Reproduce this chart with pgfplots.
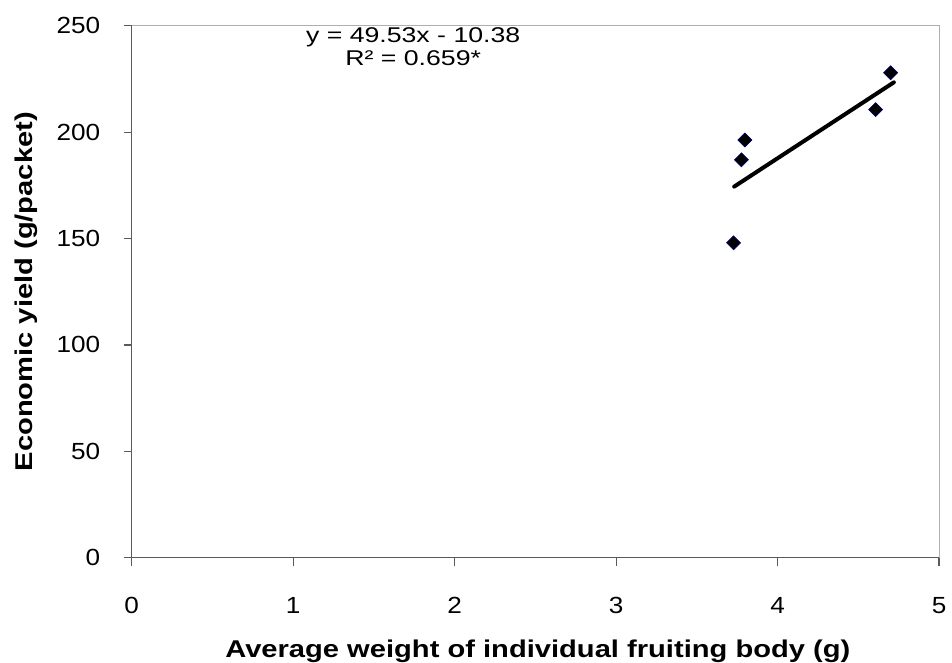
\documentclass[border=0pt]{standalone}
\usepackage{pgfplots}
\pgfplotsset{compat=1.18}
\usepackage{fontspec}
\setmainfont[FakeStretch=1.2]{Liberation Sans}
\newfontfamily\tickfont[FakeStretch=1.12]{Liberation Sans}
\newfontfamily\eqfont[FakeStretch=1.25]{Liberation Sans}
\definecolor{axgray}{RGB}{90,90,90}
\definecolor{bordgray}{RGB}{175,175,175}
\definecolor{mkedge}{RGB}{0,0,110}
\begin{document}
\begin{tikzpicture}
\path[use as bounding box] (-98.8pt,-78.2pt) rectangle (615.2pt,418.3pt);
\begin{axis}[
  at={(0,0)}, anchor=south west,
  scale only axis,
  width=605.5pt, height=399pt,
  xmin=0, xmax=5, ymin=0, ymax=250,
  xtick={0,1,2,3,4,5}, ytick={0,50,100,150,200,250},
  axis line style={draw=none},
  tick style={axgray, line width=0.9pt},
  major tick length=6pt,
  tick align=outside,
  xtick pos=bottom, ytick pos=left,
  /pgf/number format/assume math mode=true,
  ticklabel style={font=\tickfont\fontsize{17.5}{20}\selectfont, inner sep=0pt},
  xticklabel style={anchor=north, yshift=-23.7pt},
  yticklabel style={anchor=east, xshift=-17.5pt},
  xlabel={\textbf{Average weight of individual fruiting body (g)}},
  ylabel={\textbf{Economic yield (g/packet)}},
  label style={font=\fontsize{18.2}{20}\selectfont},
  xlabel style={at={(axis description cs:0.503,0)}, anchor=base, yshift=-74.7pt},
  ylabel style={at={(axis description cs:0,0.5)}, anchor=base, yshift=74.5pt},
  clip=false,
]
\draw[bordgray, line width=0.8pt] (axis cs:0,250) -- (axis cs:5,250) -- (axis cs:5,0);
\draw[axgray, line width=0.9pt] (axis cs:0,250) -- (axis cs:0,0) -- (axis cs:5,0);
\addplot[only marks, mark=square*, mark size=3.7pt, mark options={rotate=45, fill=black, draw=mkedge, line width=0.5pt}]
  coordinates {(3.727,148.0) (3.776,187.0) (3.797,196.3) (4.607,210.6) (4.70,227.9)};
\addplot[black, line width=3pt, line cap=round] coordinates {(3.731,174.4) (4.72,223.4)};
\node[anchor=base, font=\eqfont\fontsize{16}{19}\selectfont] at (axis cs:1.743,242.2) {y = 49.53x - 10.38};
\node[anchor=base, font=\eqfont\fontsize{16}{19}\selectfont] at (axis cs:1.743,231.1) {R² = 0.659*};
\end{axis}
\end{tikzpicture}
\end{document}
